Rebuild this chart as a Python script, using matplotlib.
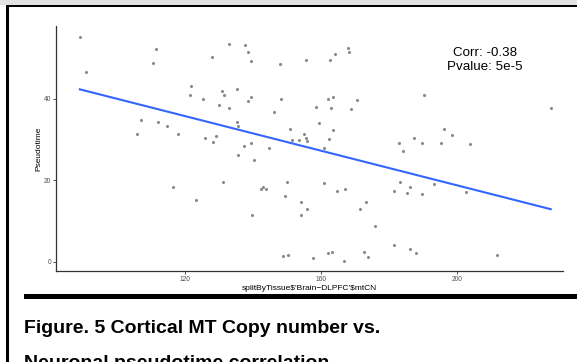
import numpy as np
import matplotlib.pyplot as plt
from matplotlib.patches import Rectangle

# mtCN (x) vs pseudotime (y)
mtcn = [89.0, 90.7, 111.3, 110.4, 127.8, 121.8, 121.5, 125.1, 130.8, 131.5,
        129.9, 107.1, 112.1, 114.6, 105.7, 118.0, 125.9, 129.0, 128.2, 133.0,
        137.7, 138.6, 139.4, 148.0, 155.5, 162.5, 164.1, 167.8, 168.2, 135.1,
        139.3, 138.6, 132.9, 148.3, 146.2, 158.5, 161.9, 163.5, 162.8, 170.4,
        168.8, 135.1, 135.6, 150.8, 159.3, 163.5, 154.8, 155.6, 155.9, 151.5,
        153.5, 162.2, 160.8, 137.4, 139.3, 144.7, 190.3, 227.5, 196.1, 198.4,
        187.3, 182.9, 189.6, 195.1, 203.7, 116.5, 123.1, 131.2, 135.6, 140.1,
        142.2, 142.8, 143.8, 150.0, 149.3, 160.9, 164.6, 167.1, 154.0, 155.9,
        154.0, 139.7, 173.2, 171.3, 175.7, 148.8, 150.1, 157.5, 162.1, 163.2,
        166.6, 172.7, 173.7, 184.1, 183.2, 181.5, 186.1, 185.3, 189.7, 193.2,
        202.5, 181.4, 186.2, 187.8, 211.8]
pseudotime = [55.2, 46.5, 52.2, 48.8, 50.3, 43.0, 40.9, 39.8, 41.9, 40.9,
              38.5, 34.7, 34.3, 33.2, 31.3, 31.2, 30.3, 30.8, 29.4, 53.5,
              53.2, 51.5, 49.1, 48.6, 49.4, 49.4, 50.9, 52.4, 51.4, 42.4,
              40.3, 39.3, 37.8, 39.8, 36.7, 37.9, 39.8, 40.3, 37.7, 39.6,
              37.4, 34.3, 33.3, 32.6, 34.0, 32.2, 31.2, 30.3, 29.5, 29.9,
              29.9, 30.2, 27.8, 28.4, 29.2, 27.8, 40.9, 37.7, 32.5, 31.0,
              30.3, 29.2, 29.1, 29.0, 28.8, 18.3, 15.1, 19.6, 26.1, 25.0,
              17.9, 18.2, 17.8, 19.6, 16.2, 19.2, 17.3, 17.8, 14.7, 13.0,
              11.5, 11.5, 14.6, 12.9, 8.7, 1.4, 1.7, 1.0, 2.1, 2.3,
              0.2, 2.4, 1.1, 27.2, 19.5, 17.3, 18.4, 16.9, 16.5, 19.0,
              17.2, 4.0, 3.2, 2.2, 1.7]

xticks = [120, 160, 200]
yticks = [0, 20, 40]
stats_text = "Corr: -0.38\nPvalue: 5e-5"
caption_1 = "Figure. 5 Cortical MT Copy number vs."
caption_2 = "Neuronal pseudotime correlation"

plt.rcParams['font.family'] = ['Liberation Sans', 'DejaVu Sans']

W, H = 577, 362
fig = plt.figure(figsize=(W / 100, H / 100), dpi=100)
fig.patch.set_facecolor('white')

# page frame: gray strip on top, black edges
fig.add_artist(Rectangle((0, 1 - 4.5 / H), 1, 4.5 / H, transform=fig.transFigure,
                         color='#e2e2e2', lw=0))
fig.add_artist(Rectangle((6 / W, 1 - 7 / H), 1, 2.5 / H, transform=fig.transFigure,
                         color='black', lw=0))
fig.add_artist(Rectangle((6 / W, 0), 3 / W, 1 - 4.5 / H, transform=fig.transFigure,
                         color='black', lw=0))
# thick rule under the plot
fig.add_artist(Rectangle((24 / W, 1 - 298.5 / H), 1, 5 / H, transform=fig.transFigure,
                         color='black', lw=0))

ax = fig.add_axes([56 / W, 1 - 271 / H, (563 - 56) / W, (271 - 26) / H])
x = np.array(mtcn)
y = np.array(pseudotime)
ax.scatter(x, y, s=5, color='#8a8a8a', linewidths=0, zorder=2)

slope, intercept = np.polyfit(x, y, 1)
xs = np.array([x.min(), x.max()])
ax.plot(xs, intercept + slope * xs, color='#3366FF', lw=1.5, zorder=3)

ax.set_xlim(82.0, 231.1)
ax.set_ylim(-2.3, 57.8)
ax.set_xticks(xticks)
ax.set_yticks(yticks)
ax.tick_params(labelsize=4.8, labelcolor='#4d4d4d', color='#333333',
               length=2, width=0.6, pad=1.5)
for side in ['top', 'right']:
    ax.spines[side].set_visible(False)
for side in ['left', 'bottom']:
    ax.spines[side].set_color('#333333')
    ax.spines[side].set_linewidth(0.9)

ax.text(208.2, 49.5, stats_text, ha='center', va='center', fontsize=9.6,
        linespacing=1.25)

fig.text(309.5 / W, 1 - 288.5 / H, "splitByTissue\\$'Brain\u2212DLPFC'\\$mtCN",
         ha='center', va='center', fontsize=6)
fig.text(38.7 / W, 1 - 148.5 / H, "Pseudotime", rotation=90,
         ha='center', va='center', fontsize=6)

# caption: second line is cut by the bottom edge, as in the source image
fig.text(24 / W, 1 - 333 / H, caption_1, ha='left', va='baseline',
         fontsize=14, fontweight='bold')
fig.text(24 / W, 1 - 368 / H, caption_2, ha='left', va='baseline',
         fontsize=14, fontweight='bold')

plt.savefig('out.png', dpi=100)
